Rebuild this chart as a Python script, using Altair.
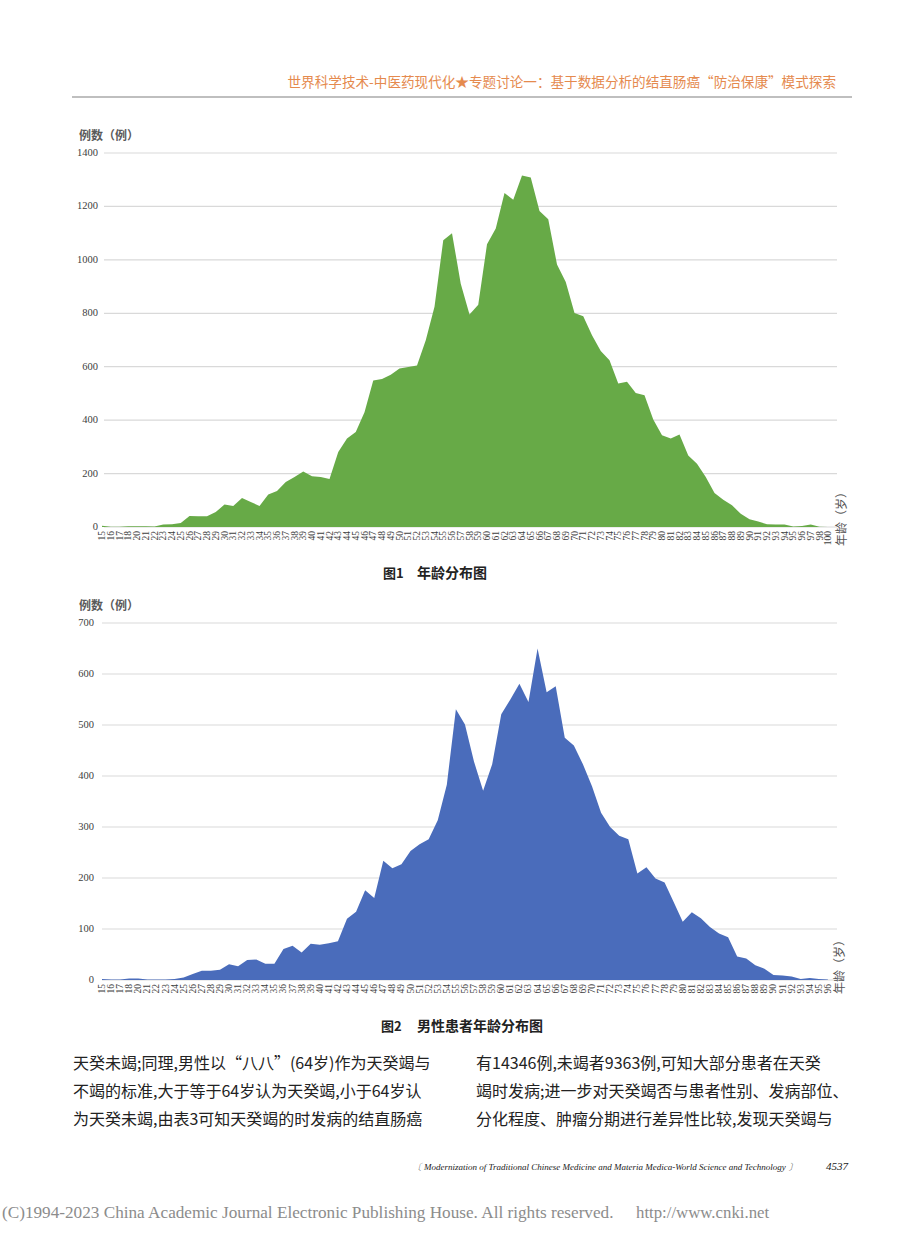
import altair as alt
import pandas as pd

# ---------------- data ----------------
ages1 = ["15", "16", "17", "18"] + [str(a) for a in range(20, 99)] + ["100"]
counts1 = [5, 1, 1, 3, 3, 3, 2, 9, 10, 15,
           41, 40, 40, 56, 84, 79, 109, 94, 79, 122,
           135, 168, 187, 208, 190, 187, 180, 281, 331, 356,
           430, 548, 554, 570, 593, 599, 605, 699, 824, 1073,
           1100, 911, 795, 832, 1058, 1117, 1250, 1225, 1316, 1308,
           1183, 1152, 983, 917, 801, 789, 718, 659, 624, 537,
           544, 502, 493, 402, 343, 331, 346, 268, 237, 187,
           127, 102, 81, 50, 29, 21, 10, 9, 9, 2,
           4, 9, 1, 0]

ages2 = ["15", "16", "17", "18"] + [str(a) for a in range(20, 97)]
counts2 = [2, 1, 1, 3, 3, 1, 1, 1, 2, 5,
           12, 18, 18, 20, 31, 27, 39, 40, 32, 32,
           61, 67, 54, 71, 69, 72, 76, 120, 134, 176,
           161, 234, 219, 227, 253, 266, 276, 313, 383, 531,
           501, 428, 371, 423, 521, 550, 581, 545, 650, 564,
           576, 475, 460, 423, 380, 328, 300, 283, 276, 209,
           221, 199, 191, 153, 114, 133, 121, 104, 91, 84,
           46, 42, 29, 22, 10, 9, 7, 2, 4, 2, 1]

ticks1 = [0, 200, 400, 600, 800, 1000, 1200, 1400]
ticks2 = [0, 100, 200, 300, 400, 500, 600, 700]

header = "世界科学技术-中医药现代化★专题讨论一：基于数据分析的结直肠癌“防治保康”模式探索"
ytitle = "例数（例）"
xtitle = "年龄（岁）"
cap1_no, cap1 = "图1", "年龄分布图"
cap2_no, cap2 = "图2", "男性患者年龄分布图"
body_left = ["天癸未竭;同理,男性以“八八”(64岁)作为天癸竭与",
             "不竭的标准,大于等于64岁认为天癸竭,小于64岁认",
             "为天癸未竭,由表3可知天癸竭的时发病的结直肠癌"]
body_right = ["有14346例,未竭者9363例,可知大部分患者在天癸",
              "竭时发病;进一步对天癸竭否与患者性别、发病部位、",
              "分化程度、肿瘤分期进行差异性比较,发现天癸竭与"]
footer = "〔 Modernization of Traditional Chinese Medicine and Materia Medica-World Science and Technology 〕"
page_no = "4537"
copyright_txt = "(C)1994-2023 China Academic Journal Electronic Publishing House. All rights reserved."
url_txt = "http://www.cnki.net"

df1 = pd.DataFrame({"idx": list(range(len(ages1))), "age": ages1, "count": counts1})
df2 = pd.DataFrame({"idx": list(range(len(ages2))), "age": ages2, "count": counts2})
t1 = pd.DataFrame({"v": ticks1, "lab": [str(t) for t in ticks1]})
t2 = pd.DataFrame({"v": ticks2, "lab": [str(t) for t in ticks2]})

SERIF = "Liberation Serif"
CJK = "Noto Sans CJK SC"
GREEN = "#67AA47"
BLUE = "#4A6CBB"
GRID = "#D9D9D9"
TICK = "#404040"


def panel(df, ticks, color, xdom, xrange, ydom, yrange, grid_x0, ylab_x, xlab_y):
    xs = alt.Scale(domain=xdom, range=xrange, nice=False, zero=False)
    ys = alt.Scale(domain=ydom, range=yrange, nice=False)
    grid = alt.Chart(ticks).mark_rule(color=GRID, strokeWidth=1.2).encode(
        y=alt.Y("v:Q", scale=ys, axis=None),
        x=alt.value(grid_x0), x2=alt.value(837))
    area = alt.Chart(df).mark_area(color=color, opacity=1).encode(
        x=alt.X("idx:Q", scale=xs, axis=None),
        y=alt.Y("count:Q", scale=ys, axis=None))
    ylab = alt.Chart(ticks).mark_text(align="right", baseline="middle", font=SERIF,
                                      fontSize=10.5, color=TICK).encode(
        y=alt.Y("v:Q", scale=ys, axis=None), x=alt.value(ylab_x), text="lab:N")
    xlab = alt.Chart(df).mark_text(align="right", baseline="middle", angle=270, font=SERIF,
                                   fontSize=9.5, color=TICK).encode(
        x=alt.X("idx:Q", scale=xs, axis=None), y=alt.value(xlab_y), text="age:N")
    return alt.layer(grid, area, ylab, xlab)


def txt(s, x, y, size, font=CJK, color="#222222", align="left", angle=0,
        weight="normal", style="normal"):
    return alt.Chart(pd.DataFrame({"t": [s]})).mark_text(
        align=align, baseline="middle", angle=angle, font=font, fontSize=size,
        color=color, fontWeight=weight, fontStyle=style).encode(
        x=alt.value(x), y=alt.value(y), text="t:N")


p1 = panel(df1, t1, GREEN, [0, len(ages1)], [102, 837], [0, 1400], [527, 153], 104, 98, 531)
p2 = panel(df2, t2, BLUE, [0, len(ages2)], [102, 837], [0, 700], [980, 623], 102, 94, 984)

rule = alt.Chart(pd.DataFrame({"a": [0]})).mark_rule(color="#BFBFBF", strokeWidth=2).encode(
    x=alt.value(72), x2=alt.value(852), y=alt.value(97))

texts = [
    txt(header, 836, 83, 13.6, color="#E58A4E", align="right"),
    txt(ytitle, 79, 136, 12, color="#5A5A5A", weight="bold"),
    txt(xtitle, 842, 546, 12, color="#555555", angle=270),
    txt(cap1_no, 383, 574, 13, weight="bold"),
    txt(cap1, 417, 574, 14, weight="bold"),
    txt(ytitle, 79, 606, 12, color="#5A5A5A", weight="bold"),
    txt(xtitle, 840, 994, 12, color="#555555", angle=270),
    txt(cap2_no, 381, 1027, 13, weight="bold"),
    txt(cap2, 417, 1027, 14, weight="bold"),
]
for i, line in enumerate(body_left):
    texts.append(txt(line, 73, 1064 + 28 * i, 16))
for i, line in enumerate(body_right):
    texts.append(txt(line, 476, 1064 + 28 * i, 16))
texts += [
    txt(footer, 797, 1167, 9.0, font=SERIF, style="italic", align="right"),
    txt(page_no, 848, 1167, 11, font=SERIF, style="italic", align="right"),
    txt(copyright_txt, 2, 1213, 17.2, font=SERIF, color="#8C8C8C"),
    txt(url_txt, 636, 1213, 16.8, font=SERIF, color="#8C8C8C"),
]

chart = alt.layer(p1, p2, rule, *texts).resolve_scale(
    x="independent", y="independent"
).properties(
    width=920, height=1249, padding=0, background="white",
    autosize=alt.AutoSizeParams(type="none")
).configure_view(stroke=None)

chart.save("out.html", embed_options={"renderer": "svg", "actions": False})
